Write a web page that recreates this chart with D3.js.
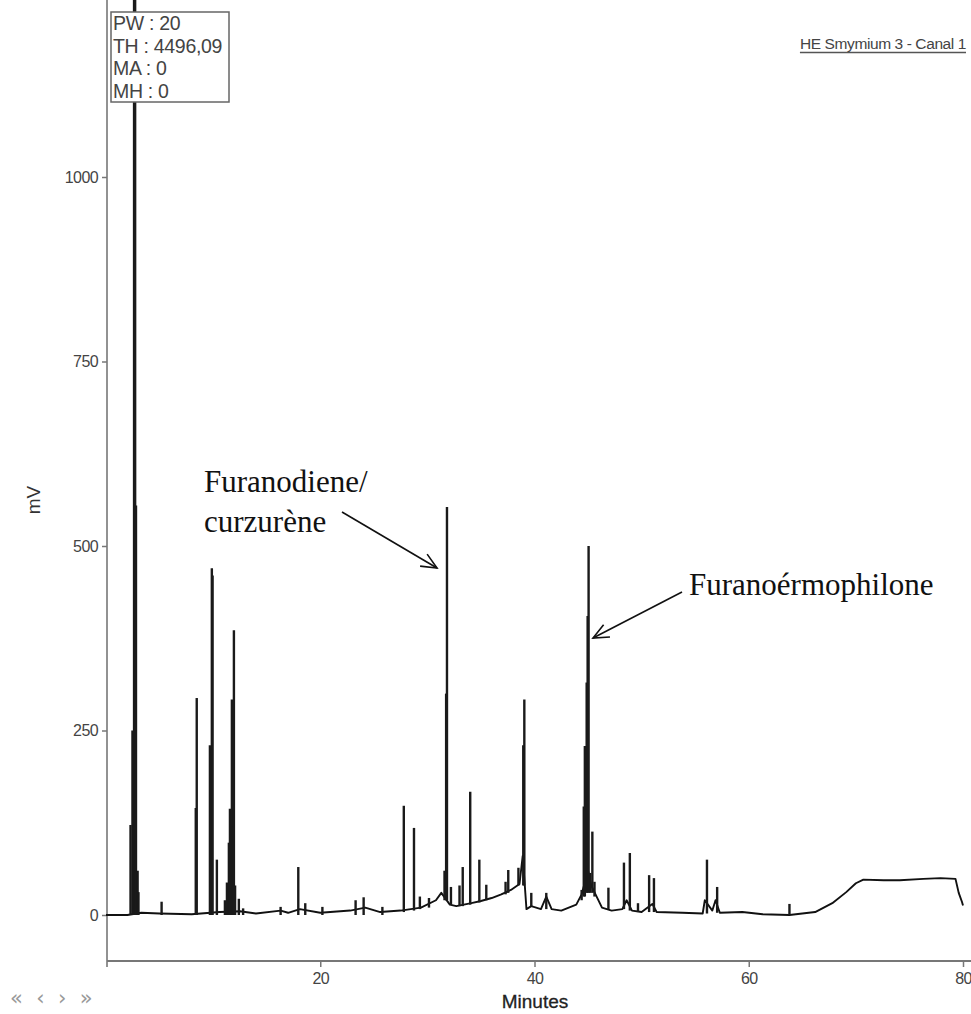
<!DOCTYPE html>
<html>
<head>
<meta charset="utf-8">
<script src="https://cdn.jsdelivr.net/npm/d3@7"></script>
<style>
  body { margin: 0; background: #fff; }
  svg { display: block; }
</style>
</head>
<body>
<script>
/* Data */

var timeTicks = [20, 40, 60, 80];
var mvTicks = [0, 250, 500, 750, 1000];

var infoLines = ["PW : 20", "TH : 4496,09", "MA : 0", "MH : 0"];
var channelTitle = "HE Smymium 3 - Canal 1";

// baseline of the trace [minutes, mV]
var baseline = [
	[0, 0], [2.0, 0], [3.3, 3], [5.0, 2], [8.0, 1], [10.6, 4], [12.5, 5], [14.0, 2],
	[16.3, 6], [17.0, 3], [18.1, 8], [20.0, 3], [22.8, 6], [24.2, 10], [25.6, 4],
	[27.5, 6], [29.4, 10], [30.8, 20], [31.3, 30], [32.1, 14], [32.7, 12],
	[34.1, 16], [35.0, 19], [36.0, 23], [36.9, 28], [37.8, 34], [38.6, 42],
	[38.9, 80], [39.25, 8], [39.7, 12], [40.6, 8], [41.1, 25], [41.6, 8],
	[42.5, 6], [43.9, 14], [44.4, 28], [45.0, 60], [45.3, 40], [45.8, 25],
	[46.3, 10], [47.2, 6], [48.2, 8], [48.6, 20], [49.1, 6], [50.0, 4],
	[51.0, 15], [51.4, 4], [53.8, 3], [55.7, 2], [55.9, 20], [56.6, 6],
	[56.9, 20], [57.3, 3], [59.4, 4], [61.3, 1], [63.8, 0], [65.0, 2],
	[66.2, 4], [67.8, 16], [69.1, 31], [70.0, 43], [70.7, 48], [72.6, 47],
	[74.1, 47], [76.3, 49], [77.9, 50], [79.3, 49], [79.6, 30], [79.9, 18], [80.0, 13]
];

// peaks [minutes, base mV, apex mV]
var peaks = [
	[2.29, 0, 122], [2.47, 0, 250], [2.62, 0, 1300], [2.72, 0, 1300], [2.8, 0, 555],
	[2.95, 0, 60], [3.03, 0, 31], [5.19, 0, 18],
	[8.38, 0, 145], [8.47, 0, 294],
	[9.7, 0, 230], [9.88, 0, 470], [9.95, 0, 460], [10.35, 0, 75],
	[11.1, 0, 20], [11.29, 0, 44], [11.47, 0, 98], [11.57, 0, 144], [11.75, 0, 292],
	[11.85, 0, 120], [11.94, 0, 386], [12.05, 0, 40],
	[12.4, 0, 22], [12.8, 0, 9], [16.3, 0, 11], [17.95, 0, 65], [18.6, 0, 16],
	[20.2, 0, 11], [23.3, 0, 20], [24.05, 0, 24], [25.8, 0, 11],
	[27.8, 4, 148], [28.75, 6, 118], [29.3, 8, 25], [30.15, 10, 23],
	[31.6, 20, 60], [31.75, 20, 300], [31.83, 20, 553], [32.2, 14, 38],
	[33.0, 12, 40], [33.3, 12, 65], [34.0, 14, 167], [34.85, 17, 75], [35.5, 20, 41],
	[37.3, 28, 45], [37.55, 30, 61], [38.5, 40, 64], [38.95, 40, 230], [39.05, 40, 292],
	[39.7, 12, 30], [41.1, 8, 30],
	[44.4, 20, 34], [44.6, 25, 147], [44.7, 25, 229], [44.87, 30, 315],
	[44.96, 30, 405], [45.05, 30, 500], [45.2, 30, 57], [45.4, 30, 113], [45.6, 25, 45],
	[46.9, 8, 37], [48.35, 8, 71], [48.9, 6, 84], [49.66, 4, 16],
	[50.7, 4, 54], [51.15, 4, 50], [56.1, 2, 75], [57.05, 3, 38], [63.8, 0, 15]
];

var labelDiene = ["Furanodiene/", "curzurène"];
var labelErmo = ["Furanoérmophilone"];


/* Canvas */

var width = 971;
var height = 1014;

var svg = d3.select("body").append("svg")
	.attr("width", width)
	.attr("height", height);

var x = d3.scaleLinear().domain([0, 80]).range([106, 963]);
var y = d3.scaleLinear().domain([0, 1000]).range([915, 177]);

var sansFont = "'Liberation Sans', Arial, sans-serif";
var axisColor = "#777";

// clip so the big solvent peak runs off the top
svg.append("clipPath").attr("id", "plotClip")
	.append("rect")
		.attr("x", x(0)).attr("y", 0)
		.attr("width", x(80) - x(0) + 2).attr("height", 961);


/* Axes */

var yAxis = d3.axisLeft(y).tickValues(mvTicks).tickFormat(d3.format("d"))
	.tickSize(5).tickPadding(4);
var gy = svg.append("g")
	.attr("transform", "translate(" + 107 + ",0)")
	.call(yAxis);
gy.select(".domain").remove();
gy.selectAll(".tick line").attr("stroke", axisColor).attr("stroke-width", 1.5);
gy.selectAll(".tick text")
	.attr("font-family", sansFont)
	.attr("font-size", 16)
	.attr("letter-spacing", -0.6)
	.attr("fill", "#444");

var xAxis = d3.axisBottom(x).tickValues(timeTicks).tickFormat(d3.format("d"))
	.tickSize(6).tickPadding(6);
var gx = svg.append("g")
	.attr("transform", "translate(0," + 961 + ")")
	.call(xAxis);
gx.select(".domain").remove();
gx.selectAll(".tick line").attr("stroke", axisColor).attr("stroke-width", 1.5);
gx.selectAll(".tick text")
	.attr("font-family", sansFont)
	.attr("font-size", 16)
	.attr("letter-spacing", -0.6)
	.attr("fill", "#444");

// axis lines
svg.append("line")
	.attr("x1", 107).attr("x2", 107)
	.attr("y1", 0).attr("y2", 967)
	.attr("stroke", axisColor).attr("stroke-width", 1.6);

svg.append("line")
	.attr("x1", 107).attr("x2", 971)
	.attr("y1", 961).attr("y2", 961)
	.attr("stroke", axisColor).attr("stroke-width", 2.2);

svg.append("text")
	.attr("transform", "translate(40," + 500 + ") rotate(-90)")
	.attr("text-anchor", "middle")
	.attr("font-family", sansFont)
	.attr("font-size", 19)
	.attr("fill", "#333")
	.text("mV");

svg.append("text")
	.attr("x", 535).attr("y", 1008)
	.attr("text-anchor", "middle")
	.attr("font-family", sansFont)
	.attr("font-size", 19)
	.attr("fill", "#222")
	.attr("stroke", "#222").attr("stroke-width", 0.3)
	.text("Minutes");

svg.append("text")
	.attr("x", 10).attr("y", 1005)
	.attr("font-family", "'DejaVu Sans', sans-serif")
	.attr("font-size", 21)
	.attr("fill", "#999")
	.attr("xml:space", "preserve")
	.text("\u00ab  \u2039  \u203a  \u00bb");


/* Trace */

var plot = svg.append("g").attr("clip-path", "url(#plotClip)");

var line = d3.line()
	.x(function(d) { return x(d[0]); })
	.y(function(d) { return y(d[1]); });

plot.append("path")
	.datum(baseline)
	.attr("fill", "none")
	.attr("stroke", "#111")
	.attr("stroke-width", 1.9)
	.attr("stroke-linejoin", "round")
	.attr("d", line);

plot.append("g")
	.selectAll("line")
	.data(peaks)
	.enter().append("line")
		.attr("x1", function(d) { return x(d[0]); })
		.attr("x2", function(d) { return x(d[0]); })
		.attr("y1", function(d) { return y(d[1]); })
		.attr("y2", function(d) { return y(d[2]); })
		.attr("stroke", "#1a1a1a")
		.attr("stroke-width", 2.4);


/* Info box and title */

var box = svg.append("g");
box.append("rect")
	.attr("x", 111).attr("y", 12)
	.attr("width", 118).attr("height", 90)
	.attr("fill", "#fff")
	.attr("stroke", "#666")
	.attr("stroke-width", 1.5);

box.selectAll("text")
	.data(infoLines)
	.enter().append("text")
		.attr("x", 113)
		.attr("y", function(d, i) { return 30 + i * 22.5; })
		.attr("font-family", sansFont)
		.attr("font-size", 19.5)
		.attr("letter-spacing", -0.3)
		.attr("fill", "#444")
		.text(function(d) { return d; });

var title = svg.append("text")
	.attr("x", 966).attr("y", 49)
	.attr("text-anchor", "end")
	.attr("font-family", sansFont)
	.attr("font-size", 15.5)
	.attr("letter-spacing", -0.4)
	.attr("fill", "#444")
	.text(channelTitle);

var tb = title.node().getBBox();
svg.append("line")
	.attr("x1", tb.x).attr("x2", tb.x + tb.width)
	.attr("y1", 52.5).attr("y2", 52.5)
	.attr("stroke", "#555").attr("stroke-width", 1.5);


/* Annotations */

function addLabel(lines, tx, ty, from, to) {
	var g = svg.append("g");
	g.selectAll("text")
		.data(lines)
		.enter().append("text")
			.attr("x", tx)
			.attr("y", function(d, i) { return ty + i * 40; })
			.attr("font-family", "'Liberation Serif', 'Times New Roman', serif")
			.attr("font-size", 31)
			.attr("fill", "#111")
			.text(function(d) { return d; });

	var ang = Math.atan2(to[1] - from[1], to[0] - from[0]);
	var len = 17, spread = 0.42;
	g.append("line")
		.attr("x1", from[0]).attr("y1", from[1])
		.attr("x2", to[0]).attr("y2", to[1])
		.attr("stroke", "#111").attr("stroke-width", 1.6);
	g.append("path")
		.attr("d", "M" + (to[0] - len * Math.cos(ang - spread)) + "," + (to[1] - len * Math.sin(ang - spread)) +
			"L" + to[0] + "," + to[1] +
			"L" + (to[0] - len * Math.cos(ang + spread)) + "," + (to[1] - len * Math.sin(ang + spread)))
		.attr("fill", "none")
		.attr("stroke", "#111").attr("stroke-width", 1.6);
}

addLabel(labelDiene, 204, 492, [342, 512], [437, 568]);
addLabel(labelErmo, 689, 595, [682, 592], [593, 638]);

</script>
</body>
</html>
